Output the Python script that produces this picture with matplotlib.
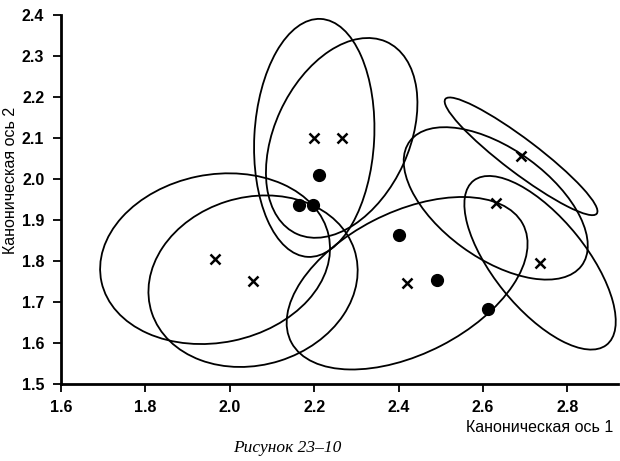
import numpy as np
import matplotlib
matplotlib.use("Agg")
from matplotlib import pyplot as plt
from matplotlib.patches import Ellipse


# group means (crosses) on the two canonical axes
mean_x = [2.20, 2.265, 1.965, 2.055, 2.42, 2.69, 2.63, 2.735]
mean_y = [2.10, 2.10, 1.805, 1.75, 1.745, 2.055, 1.94, 1.795]

# ellipse sizes around each mean (full axes, data units) and tilt in degrees
ell_w = [0.582, 0.515, 0.550, 0.504, 0.620, 0.455, 0.508, 0.510]
ell_h = [0.284, 0.319, 0.410, 0.409, 0.345, 0.082, 0.266, 0.220]
ell_angle = [87, 66, 12, 18, 28, -38, -37, -52]

# single observations (filled dots)
obs_x = [2.212, 2.165, 2.198, 2.40, 2.49, 2.612]
obs_y = [2.009, 1.937, 1.937, 1.862, 1.754, 1.681]

xticks = [1.6, 1.8, 2.0, 2.2, 2.4, 2.6, 2.8]
yticks = [1.5, 1.6, 1.7, 1.8, 1.9, 2.0, 2.1, 2.2, 2.3, 2.4]

plt.rcParams['font.family'] = ['Liberation Sans', 'DejaVu Sans']

fig = plt.figure(figsize=(6.2, 4.61), dpi=100)
ax = fig.add_axes([0.0984, 0.168, 0.8986, 0.7993])

for cx, cy, w, h, a in zip(mean_x, mean_y, ell_w, ell_h, ell_angle):
    ax.add_patch(Ellipse((cx, cy), w, h, angle=a, fill=False,
                         edgecolor='black', lw=1.3))

ax.plot(mean_x, mean_y, 'x', color='black', ms=7, mew=1.8)
ax.plot(obs_x, obs_y, 'o', color='black', ms=8.5)

ax.set_xlim(1.6, 2.92)
ax.set_ylim(1.5, 2.4)
ax.set_xticks(xticks)
ax.set_yticks(yticks)
ax.set_xticklabels(['%.1f' % t for t in xticks], fontweight='bold', fontsize=11.5)
ax.set_yticklabels(['%.1f' % t for t in yticks], fontweight='bold', fontsize=11.5)
ax.tick_params(direction='out', length=6, width=1.3, pad=6)

ax.spines['top'].set_visible(False)
ax.spines['right'].set_visible(False)
ax.spines['left'].set_linewidth(2)
ax.spines['bottom'].set_linewidth(2)

fig.text(11/620, 1 - 180/461, 'Каноническая ось 2', rotation=90,
         ha='center', va='center', fontsize=11.5)
fig.text(613/620, 1 - 427/461, 'Каноническая ось 1',
         ha='right', va='center', fontsize=11.5)
fig.text(287/620, 1 - 448/461, 'Рисунок 23–10', ha='center', va='center',
         fontsize=12.5, style='italic', family=['Liberation Serif', 'DejaVu Serif'])

fig.savefig('out.png', dpi=100)
